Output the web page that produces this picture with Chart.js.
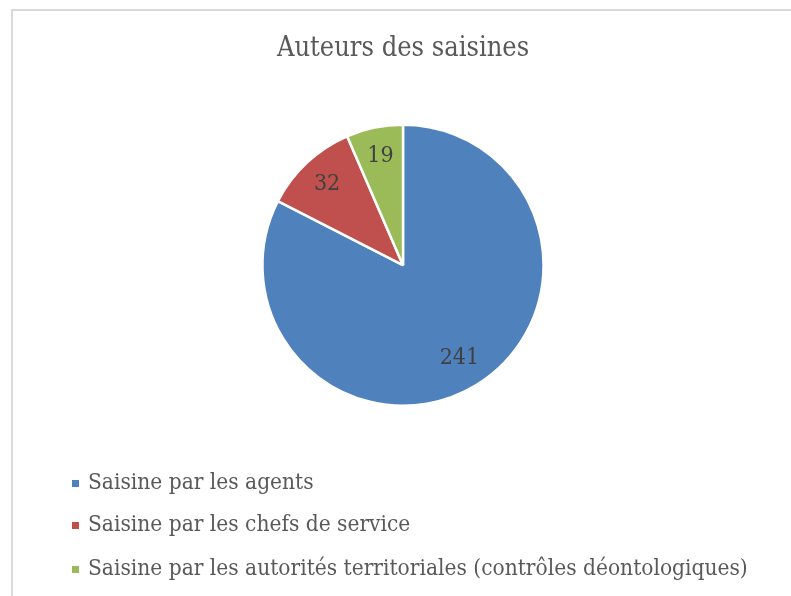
<!DOCTYPE html>
<html><head><meta charset="utf-8">
<script src="https://cdn.jsdelivr.net/npm/chart.js@4/dist/chart.umd.min.js"></script>
<style>html,body{margin:0;padding:0;background:#fff}canvas{display:block}</style>
</head><body>
<canvas id="c" width="791" height="596"></canvas>
<script>
const titleText = "Auteurs des saisines";
const categories = [
  "Saisine par les agents",
  "Saisine par les chefs de service",
  "Saisine par les autorités territoriales (contrôles déontologiques)"
];
const values = [241, 32, 19];
const colors = ["#4f81bd", "#c0504d", "#9bbb59"];

const FONT = "'DejaVu Serif Condensed', 'DejaVu Serif', serif";

const framePlugin = {
  id: 'frame',
  beforeDraw(chart) {
    const ctx = chart.ctx;
    ctx.save();
    ctx.fillStyle = '#fff';
    ctx.fillRect(0, 0, chart.width, chart.height);
    ctx.fillStyle = '#d9d9d9';
    ctx.fillRect(11, 9, chart.width, 2);
    ctx.fillRect(11, 9, 2, chart.height);
    ctx.restore();
  }
};

const labelPlugin = {
  id: 'sliceLabels',
  afterDatasetsDraw(chart) {
    const ctx = chart.ctx;
    const meta = chart.getDatasetMeta(0);
    ctx.save();
    ctx.font = "23px " + FONT;
    ctx.fillStyle = '#404040';
    ctx.textAlign = 'center';
    ctx.textBaseline = 'middle';
    meta.data.forEach((arc, i) => {
      const p = arc.getProps(['x','y','startAngle','endAngle','outerRadius'], true);
      const mid = (p.startAngle + p.endAngle) / 2;
      const r = p.outerRadius * (i === 0 ? 0.77 : 0.79);
      ctx.fillText(String(chart.data.datasets[0].data[i]), p.x + Math.cos(mid) * r, p.y + Math.sin(mid) * r);
    });
    ctx.restore();
  }
};

const legendPlugin = {
  id: 'leftLegend',
  afterDraw(chart) {
    const ctx = chart.ctx;
    const ys = [483, 525, 569];
    ctx.save();
    ctx.font = "22.5px " + FONT;
    ctx.textBaseline = 'middle';
    ctx.textAlign = 'left';
    chart.data.labels.forEach((lab, i) => {
      ctx.fillStyle = chart.data.datasets[0].backgroundColor[i];
      ctx.fillRect(72, ys[i] - 3, 7, 7);
      ctx.fillStyle = '#595959';
      ctx.fillText(lab, 88, ys[i]);
    });
    ctx.restore();
  }
};

new Chart(document.getElementById('c'), {
  type: 'pie',
  data: {
    labels: categories,
    datasets: [{
      data: values,
      backgroundColor: colors,
      borderColor: '#ffffff',
      borderWidth: 2.5
    }]
  },
  options: {
    responsive: false,
    animation: false,
    layout: { padding: { left: 261, right: 246, top: 0, bottom: 189 } },
    plugins: {
      legend: { display: false },
      tooltip: { enabled: false },
      title: {
        display: true,
        text: titleText,
        color: '#595959',
        font: { family: FONT, size: 27, weight: 'normal' },
        padding: { top: 33, bottom: 58 }
      }
    }
  },
  plugins: [framePlugin, labelPlugin, legendPlugin]
});
</script>
</body></html>
